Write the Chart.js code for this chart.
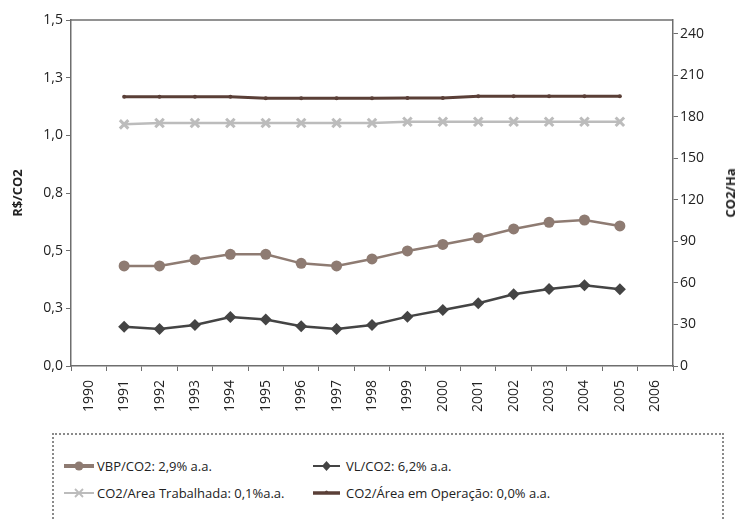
<!DOCTYPE html>
<html>
<head>
<meta charset="utf-8">
<script src="https://cdn.jsdelivr.net/npm/chart.js@4.4.1/dist/chart.umd.min.js"></script>
<style>
  html, body { margin: 0; padding: 0; background: #fff; }
  body { width: 741px; height: 519px; position: relative; overflow: hidden; font-family: "Open Sans", sans-serif; }
  #wrap { position: absolute; left: 0; top: 0; width: 741px; height: 430px; }
  #rightTitle { position: absolute; left: 730px; top: 193px; transform: translate(-50%, -50%) rotate(-90deg);
    font: bold 13px "Open Sans", sans-serif; color: #222; white-space: nowrap; }
  #legendBox { position: absolute; left: 52px; top: 433px; width: 668px; height: 120px;
    border: 2px dotted #8a8a8a; border-bottom: none; }
  .item { position: absolute; height: 20px; display: flex; align-items: center; font-size: 13px; color: #222; white-space: nowrap; }
  .item svg { margin-right: 3px; }
</style>
</head>
<body>
<div id="wrap"><canvas id="chart"></canvas></div>
<div id="rightTitle">CO2/Ha</div>
<div id="legendBox"></div>

<script>
const years = ['1990', '1991', '1992', '1993', '1994', '1995', '1996', '1997', '1998',
  '1999', '2000', '2001', '2002', '2003', '2004', '2005', '2006'];

// R$/CO2 (eixo esquerdo)
const vbpCo2 = [null, 0.434, 0.434, 0.461, 0.484, 0.484, 0.445, 0.434, 0.464,
  0.499, 0.527, 0.556, 0.594, 0.623, 0.633, 0.607, null];
const vlCo2 = [null, 0.170, 0.160, 0.178, 0.212, 0.202, 0.172, 0.160, 0.178,
  0.214, 0.243, 0.272, 0.311, 0.334, 0.350, 0.333, null];

// CO2/Ha (eixo direito)
const co2AreaTrabalhada = [null, 174.6, 175.6, 175.6, 175.6, 175.6, 175.6, 175.6, 175.6,
  176.5, 176.5, 176.5, 176.5, 176.5, 176.5, 176.5, null];
const co2AreaOperacao = [null, 194.6, 194.6, 194.6, 194.6, 193.4, 193.4, 193.4, 193.4,
  193.6, 193.6, 194.9, 194.9, 194.9, 194.9, 194.9, null];

const seriesNames = ['VBP/CO2: 2,9% a.a.', 'VL/CO2: 6,2% a.a.',
  'CO2/Area Trabalhada: 0,1%a.a.', 'CO2/Área em Operação: 0,0% a.a.'];

const leftTicks = [0, 0.25, 0.5, 0.75, 1.0, 1.25, 1.5];
const rightTicks = [0, 30, 60, 90, 120, 150, 180, 210, 240];

const axisColor = '#6e6e6e';
const tickFont = { family: 'Open Sans', size: 14 };

const datasets = [
  {
    label: seriesNames[0], data: vbpCo2, yAxisID: 'y',
    borderColor: '#8e7b72', backgroundColor: '#8e7b72', borderWidth: 2.5,
    pointStyle: 'circle', pointRadius: 5.5, pointBorderWidth: 0, pointHoverRadius: 5.5
  },
  {
    label: seriesNames[1], data: vlCo2, yAxisID: 'y',
    borderColor: '#444444', backgroundColor: '#444444', borderWidth: 2.5,
    pointStyle: 'rectRot', pointRadius: 6, pointBorderWidth: 0, pointHoverRadius: 6
  },
  {
    label: seriesNames[2], data: co2AreaTrabalhada, yAxisID: 'y1',
    borderColor: '#bcbcbc', backgroundColor: '#bcbcbc', borderWidth: 2.5,
    pointStyle: 'crossRot', pointRadius: 6, pointBorderWidth: 3, pointHoverRadius: 6
  },
  {
    label: seriesNames[3], data: co2AreaOperacao, yAxisID: 'y1',
    borderColor: '#5a3f37', backgroundColor: '#5a3f37', borderWidth: 3,
    pointStyle: 'circle', pointRadius: 2, pointBorderWidth: 0, pointHoverRadius: 2
  }
];

const boxTop = {
  id: 'boxTop',
  afterDraw(chart) {
    const { ctx, chartArea } = chart;
    ctx.save();
    ctx.strokeStyle = axisColor;
    ctx.lineWidth = 1.5;
    ctx.beginPath();
    ctx.moveTo(chartArea.left, chartArea.top);
    ctx.lineTo(chartArea.right, chartArea.top);
    ctx.stroke();
    ctx.restore();
  }
};

new Chart(document.getElementById('chart'), {
  type: 'line',
  data: { labels: years, datasets: datasets },
  options: {
    responsive: true,
    maintainAspectRatio: false,
    animation: false,
    layout: { padding: { top: 20, left: 0, right: 0, bottom: 0 } },
    plugins: { legend: { display: false }, tooltip: { enabled: false } },
    elements: { line: { tension: 0 } },
    scales: {
      x: {
        offset: true,
        afterFit(scale) { scale.height = 64; },
        grid: { offset: true, drawOnChartArea: false, color: axisColor, tickLength: 5 },
        border: { color: axisColor, width: 1.5 },
        ticks: { minRotation: 90, maxRotation: 90, padding: 9, color: '#222', font: tickFont, autoSkip: false }
      },
      y: {
        position: 'left', min: 0, max: 1.5,
        afterFit(scale) { scale.width = 71; },
        afterBuildTicks(scale) { scale.ticks = leftTicks.map(v => ({ value: v })); },
        grid: { drawOnChartArea: false, color: axisColor, tickLength: 5 },
        border: { color: axisColor, width: 1.5 },
        ticks: { padding: 3, color: '#222', font: tickFont,
          callback: v => v.toFixed(1).replace('.', ',') },
        title: { display: true, text: 'R$/CO2', color: '#222', padding: { top: 10 },
          font: { family: 'Open Sans', size: 13, weight: 'bold' } }
      },
      y1: {
        position: 'right', min: 0, max: 250,
        afterFit(scale) { scale.width = 68; },
        afterBuildTicks(scale) { scale.ticks = rightTicks.map(v => ({ value: v })); },
        grid: { drawOnChartArea: false, color: axisColor, tickLength: 5 },
        border: { color: axisColor, width: 1.5 },
        ticks: { padding: 2, color: '#222', font: tickFont }
      }
    }
  },
  plugins: [boxTop]
});

// legenda
const legendPos = [[10, 21], [259, 21], [10, 48], [259, 48]];
const legendIcons = [
  '<line x1="0" y1="10" x2="30" y2="10" stroke="#8e7b72" stroke-width="4"/><circle cx="15" cy="10" r="4.5" fill="#8e7b72"/>',
  '<line x1="0" y1="10" x2="27" y2="10" stroke="#444" stroke-width="2"/><path d="M13.5 5 L18 10 L13.5 15 L9 10 Z" fill="#444"/>',
  '<line x1="0" y1="10" x2="30" y2="10" stroke="#bcbcbc" stroke-width="2"/><path d="M11 6 L19 14 M19 6 L11 14" stroke="#bcbcbc" stroke-width="1.8"/>',
  '<line x1="0" y1="10" x2="27" y2="10" stroke="#5a3f37" stroke-width="3.5"/><circle cx="13.5" cy="9" r="1.5" fill="#5a3f37"/>'
];
const legendBox = document.getElementById('legendBox');
seriesNames.forEach((name, i) => {
  const item = document.createElement('div');
  item.className = 'item';
  item.style.left = legendPos[i][0] + 'px';
  item.style.top = legendPos[i][1] + 'px';
  item.innerHTML = '<svg width="30" height="20">' + legendIcons[i] + '</svg><span>' + name + '</span>';
  legendBox.appendChild(item);
});
</script>
</body>
</html>
